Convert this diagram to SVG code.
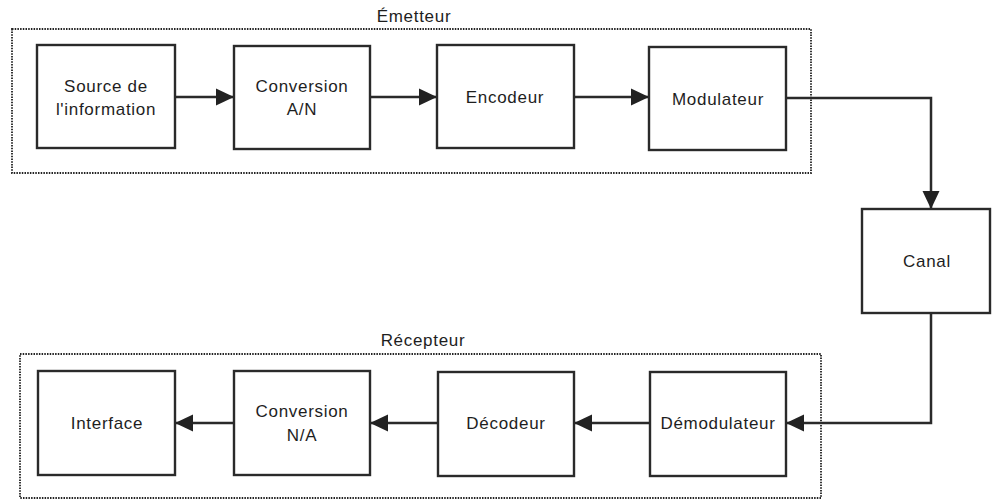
<svg xmlns="http://www.w3.org/2000/svg" width="992" height="500" viewBox="0 0 992 500">
<defs>
<style>
.grp{fill:none;stroke:#222;stroke-width:1.8;stroke-dasharray:1.5 1.2}
.box{fill:#fff;stroke:#2a2a2a;stroke-width:2.4}
.t{font-family:"Liberation Sans",Arial,sans-serif;font-size:17px;fill:#1e1e1e;text-anchor:middle;letter-spacing:0.7px}
.c{fill:none;stroke:#2a2a2a;stroke-width:2.5;marker-end:url(#ah)}
</style>
<marker id="ah" markerUnits="userSpaceOnUse" markerWidth="20" markerHeight="20" viewBox="0 0 20 20" refX="18" refY="10" orient="auto">
<path d="M0,1.5 L18,10 L0,18.5 Z" fill="#222"/>
</marker>
</defs>
<rect width="992" height="500" fill="#fff"/>
<g id="emetteur">
<rect class="grp" x="12" y="29" width="799" height="144"/>
<text class="t" x="414" y="22">Émetteur</text>
</g>
<g id="recepteur">
<rect class="grp" x="20" y="354" width="801" height="144"/>
<text class="t" x="423" y="346">Récepteur</text>
</g>
<g id="connectors">
<path class="c" d="M175,97 H234"/>
<path class="c" d="M370,97 H437"/>
<path class="c" d="M574,97 H649"/>
<path class="c" d="M786,98 H931 V209"/>
<path class="c" d="M931,313 V423 H786"/>
<path class="c" d="M650,423 H574"/>
<path class="c" d="M438,423 H370"/>
<path class="c" d="M234,423 H175"/>
</g>
<g id="source">
<rect class="box" x="37" y="45" width="138" height="103"/>
<text class="t" x="106" y="92">Source de</text>
<text class="t" x="106" y="115">l'information</text>
</g>
<g id="conversion-an">
<rect class="box" x="234" y="46" width="136" height="103"/>
<text class="t" x="302" y="92">Conversion</text>
<text class="t" x="302" y="115">A/N</text>
</g>
<g id="encodeur">
<rect class="box" x="437" y="45" width="137" height="103"/>
<text class="t" x="505" y="103">Encodeur</text>
</g>
<g id="modulateur">
<rect class="box" x="649" y="47" width="137" height="103"/>
<text class="t" x="718" y="105">Modulateur</text>
</g>
<g id="canal">
<rect class="box" x="862" y="209" width="128" height="104"/>
<text class="t" x="927" y="267">Canal</text>
</g>
<g id="interface">
<rect class="box" x="38" y="371" width="137" height="104"/>
<text class="t" x="107" y="429">Interface</text>
</g>
<g id="conversion-na">
<rect class="box" x="234" y="371" width="136" height="104"/>
<text class="t" x="302" y="417">Conversion</text>
<text class="t" x="302" y="441">N/A</text>
</g>
<g id="decodeur">
<rect class="box" x="438" y="372" width="136" height="104"/>
<text class="t" x="506" y="429">Décodeur</text>
</g>
<g id="demodulateur">
<rect class="box" x="650" y="372" width="136" height="104"/>
<text class="t" x="718" y="429">Démodulateur</text>
</g>
</svg>
